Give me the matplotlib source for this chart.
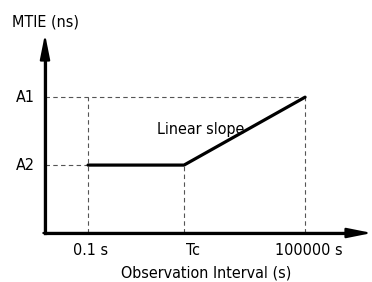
import matplotlib.pyplot as plt
from matplotlib.transforms import offset_copy

plt.rcParams['font.family'] = ['Liberation Sans Narrow', 'DejaVu Sans']
plt.rcParams['font.stretch'] = 'condensed'

# MTIE mask sketch: flat at A2 until Tc, then linear slope up to A1
tau = [0.1, 45.0, 100000.0]          # observation interval (s), log scale
mtie = [1.0, 1.0, 2.0]               # A2 = 1, A1 = 2 (arbitrary units)
xtick_labels = ['0.1 s', 'Tc', '100000 s']
ytick_vals = [2.0, 1.0]
ytick_labels = ['A1', 'A2']

fig = plt.figure(figsize=(3.72, 2.82), dpi=100)
# axes box: left edge at the y axis, right edge at the x-arrow tip
ax = fig.add_axes([45 / 372, 49 / 282, 327 / 372, 199 / 282])
ax.set_xscale('log')
ax.set_xlim(10 ** -2.19, 10 ** 6.85)
ax.set_ylim(0, 2.93)
ax.axis('off')

dash = dict(color='#555555', lw=0.8, ls=(0, (4, 3)))
x0 = ax.get_xlim()[0]
# horizontal guides from axis to the level points
ax.plot([x0, tau[2]], [mtie[2], mtie[2]], **dash)
ax.plot([x0, tau[0]], [mtie[0], mtie[0]], **dash)
# vertical guides
ax.plot([tau[0], tau[0]], [0, mtie[2]], **dash)
ax.plot([tau[1], tau[1]], [0, mtie[1]], **dash)
ax.plot([tau[2], tau[2]], [0, mtie[2]], **dash)

ax.plot(tau, mtie, color='black', lw=2.3, solid_capstyle='round', zorder=3)

# axes arrows (narrow, long heads)
arr = dict(arrowstyle='-|>,head_length=1.5,head_width=0.3', color='black', lw=1.6,
           shrinkA=0, shrinkB=0)
ax.annotate('', xy=(0, 1.0), xytext=(0, -0.005), xycoords='axes fraction',
            arrowprops=arr, annotation_clip=False)
ax.annotate('', xy=(1.0, 0), xytext=(-0.005, 0), xycoords='axes fraction',
            arrowprops=arr, annotation_clip=False)
ax.plot([0, 0.95], [0, 0], color='black', lw=2.3, transform=ax.transAxes, clip_on=False)
ax.plot([0, 0], [0, 0.93], color='black', lw=2.3, transform=ax.transAxes, clip_on=False)

fs = 11.5
xoffs = [3, 9, 4]   # labels sit slightly right of their guide lines
xlab_tr = ax.get_xaxis_transform()
for t, lab, dx in zip(tau, xtick_labels, xoffs):
    ax.text(t, 0, lab, ha='center', va='top', fontsize=fs,
            transform=offset_copy(xlab_tr, fig=fig, x=dx, y=-10, units='dots'))
ylab_tr = offset_copy(ax.get_yaxis_transform(), fig=fig, x=-10, y=0, units='dots')
for v, lab in zip(ytick_vals, ytick_labels):
    ax.text(0, v, lab, ha='right', va='center', fontsize=fs, transform=ylab_tr)

ax.text(8.2, 1.53, 'Linear slope', ha='left', va='center', fontsize=fs)
fig.text(206 / 372, 1 - 273 / 282, 'Observation Interval (s)', ha='center',
         va='center', fontsize=fs)
fig.text(12 / 372, 1 - 22 / 282, 'MTIE (ns)', ha='left', va='center', fontsize=fs)

fig.savefig('out.png', dpi=100)
